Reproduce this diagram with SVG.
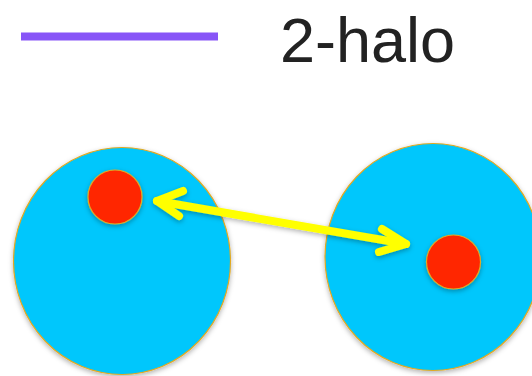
<svg xmlns="http://www.w3.org/2000/svg" width="532" height="376" viewBox="0 0 532 376">
<defs>
<style>
.halo{fill:#00C7FC;stroke:#E3A921;stroke-width:1.2}
.sub{fill:#FF2600;stroke:#E3A921;stroke-width:1.2}
.arr{fill:none;stroke:#FFFF00;stroke-width:8;stroke-linecap:round;stroke-linejoin:round}
</style>
<filter id="sh" x="-20%" y="-20%" width="140%" height="140%">
<feDropShadow dx="0" dy="2" stdDeviation="2.5" flood-color="#000" flood-opacity="0.3"/>
</filter>
</defs>
<g id="legend">
<line x1="21" y1="36.5" x2="218" y2="36.5" stroke="#8855F7" stroke-width="8"/>
<text x="280" y="62" font-family="Liberation Sans, Arial, sans-serif" font-size="63" fill="#222">2-halo</text>
</g>
<g id="halo1" filter="url(#sh)">
<ellipse class="halo" cx="122" cy="261" rx="108.5" ry="113.5"/>
</g>
<g id="halo2" filter="url(#sh)">
<ellipse class="halo" cx="433" cy="257" rx="108" ry="113.5"/>
</g>
<g id="sub1" filter="url(#sh)">
<circle class="sub" cx="115" cy="197" r="27"/>
</g>
<g id="sub2" filter="url(#sh)">
<circle class="sub" cx="453.5" cy="262" r="27"/>
</g>
<g id="connectors" filter="url(#sh)">
<path class="arr" d="M157 201 L406 244"/>
<path class="arr" d="M183 191 L157 201 L179 216"/>
<path class="arr" d="M382 229 L406 244 L379 252"/>
</g>
</svg>
